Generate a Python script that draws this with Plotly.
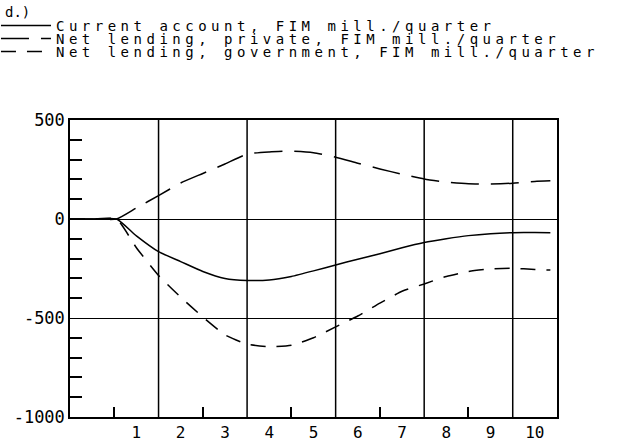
import plotly.graph_objects as go

# x positions (label k centred at x=k); curves are flat at 0 before ~0.55
x_vals = [-0.5, 0.0, 0.55, 1.0, 1.5, 2.0, 2.5, 3.0, 3.5, 4.0, 4.5, 5.0, 5.5,
          6.0, 6.5, 7.0, 7.5, 8.0, 8.5, 9.0, 9.5, 10.0, 10.35]
current_account = [0, 0, 0, -85, -165, -215, -265, -300, -310, -308, -290, -262,
                   -232, -203, -175, -145, -119, -100, -84, -74, -69, -68, -69]
net_lending_private = [0, 0, 0, 56, 118, 182, 230, 278, 328, 339, 343, 335, 312,
                       282, 253, 226, 202, 186, 178, 177, 181, 190, 193]
net_lending_government = [0, 0, 0, -145, -285, -395, -495, -585, -632, -645, -638,
                          -600, -545, -490, -425, -365, -328, -290, -265, -252,
                          -249, -255, -258]

x_labels = ["1", "2", "3", "4", "5", "6", "7", "8", "9", "10"]
x_label_pos = [1, 2, 3, 4, 5, 6, 7, 8, 9, 10]
x_grid_pos = [1.5, 3.5, 5.5, 7.5, 9.5]
x_minor_pos = [0.5, 2.5, 4.5, 6.5, 8.5]
y_tick_vals = [-1000, -500, 0, 500]
y_tick_text = ["-1000", "-500", "0", "500"]
y_minor_pos = [-900, -800, -700, -600, -400, -300, -200, -100, 100, 200, 300, 400]

names = ["Current account, FIM mill./quarter",
         "Net lending, private, FIM mill./quarter",
         "Net lending, government, FIM mill./quarter"]

FONT = "DejaVu Sans Mono"


def spaced(t, sp=4.5):
    return '<span style="letter-spacing:%spx">%s</span>' % (sp, t)


fig = go.Figure()

# vertical grid lines through the library's x axis
for gx in x_grid_pos:
    fig.add_shape(type="line", xref="x", yref="paper", x0=gx, x1=gx, y0=0, y1=1,
                  line=dict(color="black", width=1.5), layer="below")

series = [current_account, net_lending_private, net_lending_government]
dashes = ["solid", "28px,12px", "15px,11px"]
legends = ["legend", "legend2", "legend3"]
for s, n, d, lg in zip(series, names, dashes, legends):
    fig.add_trace(go.Scatter(
        x=x_vals, y=s, mode="lines", name=spaced(n), legend=lg,
        line=dict(color="black", width=1.5, dash=d, shape="spline", smoothing=0.5),
        showlegend=True))

leg_common = dict(x=-0.152, xanchor="left", yanchor="middle",
                  bgcolor="rgba(0,0,0,0)",
                  font=dict(family=FONT, size=14, color="black"), itemwidth=50)
fig.update_layout(
    legend=dict(y=(417 - 26) / 297, **leg_common),
    legend2=dict(y=(417 - 39) / 297, **leg_common),
    legend3=dict(y=(417 - 52) / 297, **leg_common),
)

fig.add_annotation(text="d.)", xref="paper", yref="paper",
                   x=-0.1376, y=(417 - 12) / 297, xanchor="left", yanchor="middle",
                   showarrow=False, font=dict(family=FONT, size=14, color="black"))

fig.update_layout(
    width=643, height=442,
    margin=dict(l=70, r=86, t=120, b=25, autoexpand=False),
    paper_bgcolor="white", plot_bgcolor="white",
    font=dict(family=FONT, size=15, color="black"),
    xaxis=dict(range=[-0.5, 10.5], tickmode="array", tickvals=x_label_pos,
               ticktext=x_labels,
               ticks="", showgrid=False, zeroline=False,
               showline=True, mirror=True, linecolor="black", linewidth=1.5,
               tickfont=dict(family=FONT, size=16),
               minor=dict(tickmode="array", tickvals=x_minor_pos, ticks="inside",
                          ticklen=10, tickcolor="black", tickwidth=1.5,
                          showgrid=False)),
    yaxis=dict(range=[-1000, 500], tickmode="array", tickvals=y_tick_vals,
               ticktext=y_tick_text,
               ticks="", showgrid=True, gridcolor="black", gridwidth=1.2,
               zeroline=False, showline=True, mirror=True, linecolor="black",
               linewidth=1.5, tickfont=dict(family=FONT, size=17),
               minor=dict(tickmode="array", tickvals=y_minor_pos, ticks="inside",
                          ticklen=12, tickcolor="black", tickwidth=1.5,
                          showgrid=False)),
)

fig.write_html("out.html", config={"displayModeBar": False},
               post_script="document.body.style.margin='0px';")
